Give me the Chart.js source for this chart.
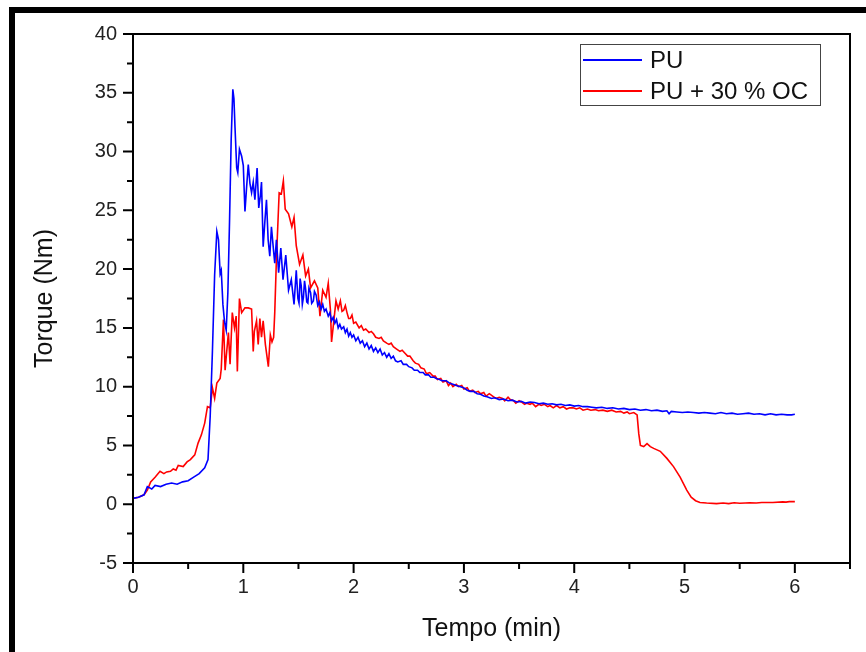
<!DOCTYPE html>
<html>
<head>
<meta charset="utf-8">
<script src="https://cdn.jsdelivr.net/npm/chart.js@4/dist/chart.umd.min.js"></script>
<style>
  html, body { margin: 0; padding: 0; background: #fff; overflow: hidden; }
  #wrap { position: relative; width: 866px; height: 652px; }
  #frame { position: absolute; left: 9px; top: 7px; width: 900px; height: 700px; border-top: 6px solid #000; border-left: 6px solid #000; pointer-events: none; }
</style>
</head>
<body>
<div id="wrap">
  <canvas id="torqueChart" width="866" height="652"></canvas>
  <div id="frame"></div>
</div>
<script>
// PU
const puTime = [0.00, 0.05, 0.10, 0.13, 0.17, 0.20, 0.25, 0.30, 0.35, 0.40, 0.45, 0.50, 0.55, 0.60, 0.65, 0.68, 0.70, 0.72, 0.74, 0.76,
  0.775, 0.79, 0.80, 0.815, 0.83, 0.845, 0.86, 0.875, 0.89, 0.905, 0.915, 0.925, 0.94, 0.95, 0.965, 0.985, 1.00, 1.015, 1.03, 1.045,
  1.06, 1.075, 1.09, 1.105, 1.125, 1.14, 1.155, 1.165, 1.18, 1.195, 1.21, 1.225, 1.24, 1.255, 1.27, 1.285, 1.30, 1.32, 1.34, 1.36,
  1.385, 1.41, 1.435, 1.46, 1.48, 1.495, 1.505, 1.515, 1.525, 1.535, 1.545, 1.555, 1.565, 1.575, 1.585, 1.595, 1.61, 1.62, 1.635, 1.645,
  1.66, 1.675, 1.69, 1.705, 1.72, 1.735, 1.75, 1.77, 1.785, 1.80, 1.815, 1.83, 1.845, 1.86, 1.875, 1.89, 1.91, 1.925, 1.94, 1.955,
  1.97, 1.985, 2.00, 2.02, 2.04, 2.06, 2.08, 2.10, 2.12, 2.14, 2.16, 2.18, 2.20, 2.22, 2.24, 2.26, 2.28, 2.30, 2.32, 2.34,
  2.36, 2.38, 2.40, 2.43, 2.45, 2.48, 2.50, 2.53, 2.55, 2.58, 2.60, 2.63, 2.65, 2.68, 2.70, 2.73, 2.75, 2.78, 2.80, 2.84,
  2.87, 2.90, 2.93, 2.97, 3.00, 3.03, 3.06, 3.09, 3.12, 3.15, 3.18, 3.21, 3.25, 3.28, 3.32, 3.36, 3.40, 3.44, 3.48, 3.52,
  3.56, 3.60, 3.64, 3.68, 3.72, 3.76, 3.80, 3.84, 3.88, 3.92, 3.96, 4.00, 4.04, 4.08, 4.12, 4.16, 4.20, 4.25, 4.30, 4.35,
  4.40, 4.45, 4.50, 4.55, 4.60, 4.65, 4.70, 4.75, 4.80, 4.84, 4.86, 4.88, 4.93, 4.98, 5.03, 5.08, 5.13, 5.18, 5.23, 5.28,
  5.33, 5.38, 5.43, 5.48, 5.53, 5.58, 5.63, 5.68, 5.73, 5.78, 5.83, 5.88, 5.93, 5.97, 6.00];
const puTorque = [0.5, 0.6, 0.8, 1.5, 1.3, 1.6, 1.5, 1.7, 1.8, 1.7, 1.9, 2.0, 2.3, 2.6, 3.1, 3.8, 7.5, 13.0, 19.5, 23.2,
  22.5, 19.6, 19.9, 17.0, 15.5, 14.8, 18.0, 24.0, 31.0, 35.3, 34.5, 32.0, 28.6, 28.2, 30.2, 29.6, 28.8, 24.9, 27.0, 28.9,
  27.3, 26.5, 27.4, 25.9, 28.6, 25.2, 26.3, 27.4, 21.9, 24.0, 25.9, 22.5, 21.1, 23.6, 22.0, 20.5, 22.5, 19.7, 21.8, 19.1,
  21.2, 18.2, 19.1, 17.0, 19.9, 17.5, 17.1, 19.2, 18.6, 17.0, 17.6, 19.0, 18.3, 17.2, 17.1, 18.4, 18.0, 17.1, 17.3, 18.1,
  17.8, 16.9, 17.2, 16.6, 17.0, 16.4, 16.6, 16.0, 16.3, 15.6, 15.9, 15.4, 15.7, 15.0, 15.3, 14.9, 15.1, 14.6, 14.9, 14.3,
  14.6, 14.2, 14.4, 13.9, 14.2, 13.7, 13.9, 13.4, 13.7, 13.2, 13.5, 13.0, 13.3, 12.9, 13.2, 12.7, 12.9, 12.5, 12.8, 12.4,
  12.6, 12.2, 12.1, 12.2, 11.9, 11.9, 11.7, 11.6, 11.4, 11.4, 11.2, 11.2, 11.0, 11.0, 10.8, 10.8, 10.7, 10.6, 10.5, 10.5,
  10.3, 10.2, 10.1, 10.0, 9.9, 9.7, 9.6, 9.6, 9.4, 9.35, 9.2, 9.15, 9.0, 9.05, 8.9, 8.95, 8.8, 8.85, 8.7, 8.75,
  8.6, 8.7, 8.65, 8.55, 8.6, 8.5, 8.55, 8.45, 8.5, 8.4, 8.45, 8.35, 8.4, 8.3, 8.3, 8.25, 8.2, 8.25, 8.15, 8.2,
  8.1, 8.15, 8.05, 8.1, 8.0, 8.05, 7.95, 8.0, 7.9, 7.95, 7.7, 7.9, 7.85, 7.8, 7.85, 7.8, 7.75, 7.8, 7.75, 7.7,
  7.8, 7.7, 7.75, 7.65, 7.7, 7.75, 7.65, 7.7, 7.6, 7.7, 7.6, 7.65, 7.6, 7.6, 7.65];

// PU + 30 % OC
const ocTime = [0.00, 0.05, 0.10, 0.13, 0.16, 0.20, 0.245, 0.28, 0.305, 0.34, 0.365, 0.39, 0.41, 0.455, 0.49, 0.52, 0.56, 0.59, 0.62, 0.65,
  0.675, 0.70, 0.72, 0.74, 0.76, 0.79, 0.80, 0.82, 0.835, 0.845, 0.865, 0.88, 0.90, 0.92, 0.935, 0.946, 0.965, 0.985, 1.015, 1.045,
  1.075, 1.09, 1.10, 1.12, 1.135, 1.15, 1.165, 1.18, 1.20, 1.227, 1.245, 1.26, 1.275, 1.285, 1.30, 1.325, 1.345, 1.363, 1.38, 1.41,
  1.44, 1.46, 1.48, 1.51, 1.54, 1.565, 1.59, 1.61, 1.645, 1.675, 1.695, 1.72, 1.75, 1.77, 1.79, 1.80, 1.815, 1.84, 1.86, 1.88,
  1.895, 1.91, 1.925, 1.94, 1.955, 1.97, 1.985, 2.00, 2.02, 2.05, 2.07, 2.09, 2.11, 2.14, 2.16, 2.18, 2.20, 2.23, 2.25, 2.27,
  2.30, 2.32, 2.34, 2.36, 2.39, 2.42, 2.44, 2.47, 2.49, 2.51, 2.54, 2.56, 2.59, 2.61, 2.64, 2.66, 2.69, 2.72, 2.74, 2.76,
  2.79, 2.81, 2.84, 2.86, 2.88, 2.90, 2.93, 2.95, 2.98, 3.00, 3.03, 3.05, 3.08, 3.10, 3.13, 3.15, 3.18, 3.20, 3.23, 3.26,
  3.29, 3.32, 3.35, 3.37, 3.40, 3.42, 3.45, 3.47, 3.50, 3.52, 3.55, 3.57, 3.60, 3.62, 3.65, 3.68, 3.70, 3.73, 3.76, 3.78,
  3.81, 3.84, 3.87, 3.90, 3.93, 3.96, 3.99, 4.02, 4.05, 4.08, 4.12, 4.15, 4.19, 4.22, 4.26, 4.30, 4.34, 4.38, 4.42, 4.45,
  4.48, 4.50, 4.54, 4.57, 4.585, 4.60, 4.63, 4.66, 4.69, 4.72, 4.78, 4.84, 4.90, 4.96, 5.02, 5.06, 5.10, 5.14, 5.20, 5.29,
  5.35, 5.40, 5.45, 5.50, 5.55, 5.59, 5.65, 5.70, 5.80, 5.89, 5.92, 5.95, 6.00];
const ocTorque = [0.5, 0.6, 0.8, 1.2, 1.9, 2.3, 2.8, 2.6, 2.75, 2.8, 3.0, 2.9, 3.3, 3.2, 3.6, 3.8, 4.2, 5.2, 5.9, 6.9,
  8.3, 8.2, 9.9, 9.0, 10.3, 10.7, 11.5, 15.7, 11.4, 12.5, 14.6, 11.9, 16.3, 15.0, 16.0, 11.3, 17.5, 16.3, 16.7, 16.7,
  16.6, 13.0, 14.7, 15.6, 13.6, 15.8, 14.2, 15.6, 13.6, 11.7, 14.4, 13.8, 14.2, 16.3, 20.8, 26.5, 26.4, 27.5, 25.1, 24.7,
  23.6, 24.4, 22.0, 20.4, 21.2, 19.4, 20.0, 18.4, 19.0, 18.4, 16.0, 18.2, 17.6, 18.8, 16.5, 13.8, 15.1, 17.3, 16.6, 17.3,
  16.4, 16.5, 16.9, 16.3, 15.8, 15.8, 16.1, 15.4, 15.5, 15.0, 15.2, 14.8, 14.9, 14.6, 14.7, 14.5, 14.2, 14.1, 14.2, 13.9,
  13.7, 13.6, 13.7, 13.4, 13.2, 13.0, 13.1, 12.8, 12.6, 12.6, 12.2, 12.0, 11.9, 11.6, 11.5, 11.1, 11.2, 10.9, 10.9, 10.6,
  10.7, 10.4, 10.5, 10.1, 10.3, 10.0, 10.2, 10.0, 10.1, 9.8, 9.9, 9.6, 9.7, 9.5, 9.6, 9.4, 9.5, 9.2, 9.4, 9.2,
  9.0, 9.1, 9.0, 8.8, 9.1, 8.9, 8.8, 8.6, 8.8, 8.7, 8.5, 8.6, 8.5, 8.6, 8.3, 8.5, 8.4, 8.5, 8.3, 8.4,
  8.2, 8.4, 8.2, 8.3, 8.1, 8.2, 8.2, 8.1, 8.2, 8.0, 8.1, 8.0, 8.05, 7.95, 8.0, 7.9, 8.0, 7.85, 7.9, 7.75,
  7.85, 7.7, 7.8, 7.6, 6.0, 5.0, 4.9, 5.15, 4.9, 4.75, 4.5, 3.9, 3.2, 2.3, 1.2, 0.6, 0.3, 0.15, 0.1, 0.05,
  0.1, 0.05, 0.12, 0.08, 0.1, 0.12, 0.1, 0.15, 0.15, 0.2, 0.18, 0.22, 0.22];

const seriesLabels = ['PU', 'PU + 30 % OC'];
const xLabelStep = 1, yLabelStep = 5;

const FONT = '"Liberation Sans", Arial, sans-serif';

function toPoints(xs, ys) {
  return xs.map((x, i) => ({ x: x, y: ys[i] }));
}

// frame, ticks and legend box
const decorations = {
  id: 'decorations',
  afterDraw(chart) {
    const ctx = chart.ctx;
    const a = chart.chartArea;
    const xs = chart.scales.x, ys = chart.scales.y;
    ctx.save();
    ctx.strokeStyle = '#000';
    ctx.lineWidth = 2;
    ctx.strokeRect(a.left, a.top, a.right - a.left, a.bottom - a.top);
    ctx.beginPath();
    xs.ticks.forEach(t => {
      const px = xs.getPixelForValue(t.value);
      const len = Math.abs(t.value % xLabelStep) < 1e-6 ? 10 : 6;
      ctx.moveTo(px, a.bottom);
      ctx.lineTo(px, a.bottom + len);
    });
    ys.ticks.forEach(t => {
      const py = ys.getPixelForValue(t.value);
      const len = Math.abs(t.value % yLabelStep) < 1e-6 ? 10 : 6;
      ctx.moveTo(a.left, py);
      ctx.lineTo(a.left - len, py);
    });
    ctx.stroke();

    // legend
    const bx = 580, by = 44, bw = 240, bh = 61;
    ctx.lineWidth = 1;
    ctx.strokeStyle = '#444';
    ctx.strokeRect(bx + 0.5, by + 0.5, bw, bh);
    ctx.font = '24px ' + FONT;
    ctx.textBaseline = 'middle';
    ctx.fillStyle = '#111';
    chart.data.datasets.forEach((ds, i) => {
      const ry = by + 16 + i * 31;
      ctx.strokeStyle = ds.borderColor;
      ctx.lineWidth = 2;
      ctx.beginPath();
      ctx.moveTo(bx + 3, ry);
      ctx.lineTo(bx + 62, ry);
      ctx.stroke();
      ctx.fillText(ds.label, bx + 70, ry + 1);
    });
    ctx.restore();
  }
};

new Chart(document.getElementById('torqueChart').getContext('2d'), {
  type: 'line',
  data: {
    datasets: [
      {
        label: seriesLabels[0],
        data: toPoints(puTime, puTorque),
        borderColor: '#0000ff',
        borderWidth: 1.6,
        pointRadius: 0,
        tension: 0
      },
      {
        label: seriesLabels[1],
        data: toPoints(ocTime, ocTorque),
        borderColor: '#ff0000',
        borderWidth: 1.6,
        pointRadius: 0,
        tension: 0
      }
    ]
  },
  options: {
    responsive: false,
    animation: false,
    layout: { padding: { left: 0, right: 16, top: 34, bottom: 0 } },
    scales: {
      x: {
        type: 'linear',
        min: 0,
        max: 6.5,
        grid: { display: false, drawTicks: false },
        border: { display: false },
        ticks: {
          stepSize: 0.5,
          padding: 12,
          color: '#222',
          font: { family: FONT, size: 20 },
          maxRotation: 0,
          autoSkip: false,
          callback: v => (Math.abs(v % xLabelStep) < 1e-6 ? String(v) : '')
        },
        title: {
          display: true,
          text: 'Tempo (min)',
          color: '#111',
          font: { family: FONT, size: 25 },
          padding: { top: 0, bottom: 8 }
        },
        afterFit: s => { s.height = 89; }
      },
      y: {
        min: -5,
        max: 40,
        grid: { display: false, drawTicks: false },
        border: { display: false },
        ticks: {
          stepSize: 2.5,
          padding: 16,
          color: '#222',
          font: { family: FONT, size: 20 },
          autoSkip: false,
          callback: v => (Math.abs(v % yLabelStep) < 1e-6 ? String(v) : '')
        },
        title: {
          display: true,
          text: 'Torque (Nm)',
          color: '#111',
          font: { family: FONT, size: 25 },
          padding: { top: 30, bottom: 0 }
        },
        afterFit: s => { s.width = 133; }
      }
    },
    plugins: {
      legend: { display: false },
      tooltip: { enabled: false }
    }
  },
  plugins: [decorations]
});
</script>
</body>
</html>
